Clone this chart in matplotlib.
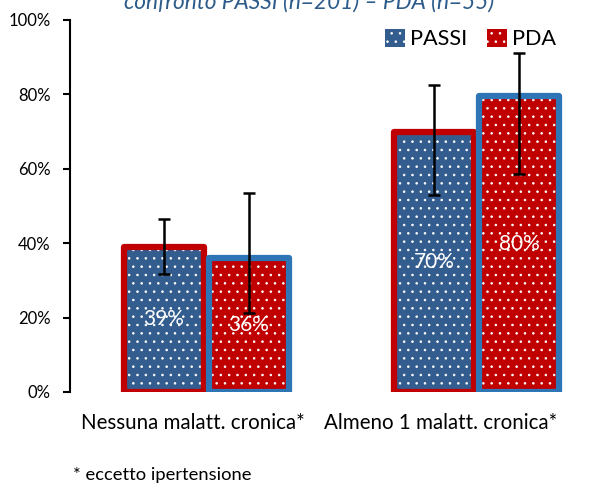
import numpy as np
import matplotlib
matplotlib.use("Agg")
import matplotlib.pyplot as plt
from matplotlib.patches import Patch

plt.rcParams['font.family'] = ['Lato', 'DejaVu Sans']
plt.rcParams['hatch.linewidth'] = 0.6

# dati
categorie = ["Nessuna malatt. cronica*", "Almeno 1 malatt. cronica*"]
serie = ["PASSI", "PDA"]
passi = [0.39, 0.70]
passi_lo = [0.317, 0.53]
passi_hi = [0.465, 0.825]
pda = [0.36, 0.795]
pda_lo = [0.212, 0.586]
pda_hi = [0.535, 0.911]
etichette_passi = ["39%", "70%"]
etichette_pda = ["36%", "80%"]

BLU = "#335d8e"
ROSSO = "#c00000"
BLU_BORDO = "#2e75b6"
TITOLO = "#2e5c8a"

W = 0.296
OFF = 0.157
x = np.arange(len(categorie))

fig = plt.figure(figsize=(6.08, 4.88), dpi=100)
ax = fig.add_axes([70/608, 96/488, 534/608, 372/488])


def barre(pos, vals, fill, bordo, lo, hi, lab):
    ax.bar(pos, vals, W, color=fill, hatch='..', edgecolor='white', linewidth=0, zorder=2)
    ax.bar(pos, vals, W, fill=False, edgecolor=bordo, linewidth=4.5, joinstyle='round', zorder=3)
    err = [np.array(vals) - np.array(lo), np.array(hi) - np.array(vals)]
    ax.errorbar(pos, vals, yerr=err, fmt='none', ecolor='black', elinewidth=1.8,
                capsize=4.5, capthick=1.8, zorder=5)
    for xi, v, t in zip(pos, vals, lab):
        ax.text(xi, v / 2, t, ha='center', va='center', color='white', fontsize=15, zorder=4)


barre(x - OFF, passi, BLU, ROSSO, passi_lo, passi_hi, etichette_passi)
barre(x + OFF, pda, ROSSO, BLU_BORDO, pda_lo, pda_hi, etichette_pda)

ax.set_ylim(0, 1)
ax.set_xlim(-0.505, 1.47)
ax.set_yticks(np.arange(0, 1.01, 0.2))
ax.set_yticklabels([f"{int(round(v*100))}%" for v in np.arange(0, 1.01, 0.2)], fontsize=12)
ax.tick_params(axis='y', length=5, width=1.5, pad=9, colors='black')
ax.set_xticks([-0.05, 0.867])
ax.set_xticklabels(categorie, fontsize=14.8)
ax.tick_params(axis='x', length=0, pad=15)
for s in ['top', 'right', 'bottom']:
    ax.spines[s].set_visible(False)
ax.spines['left'].set_linewidth(1.5)

handles = [Patch(facecolor=BLU, hatch='..', edgecolor='white', linewidth=0),
           Patch(facecolor=ROSSO, hatch='..', edgecolor='white', linewidth=0)]
ax.legend(handles, serie, loc='upper left', bbox_to_anchor=(0.59, 0.977), ncol=2,
          frameon=False, fontsize=15.6, handlelength=0.92, handleheight=0.92,
          handletextpad=0.23, columnspacing=0.92, borderaxespad=0, borderpad=0)

fig.text(309/608, 1 - 9/488, "confronto PASSI (n=201) – PDA (n=55)", ha='center', va='baseline',
         style='italic', color=TITOLO, fontsize=16.3)
fig.text(73/608, 1 - 475/488, "* eccetto ipertensione", ha='left', va='center', fontsize=13.2)

fig.savefig("out.png", dpi=100)
